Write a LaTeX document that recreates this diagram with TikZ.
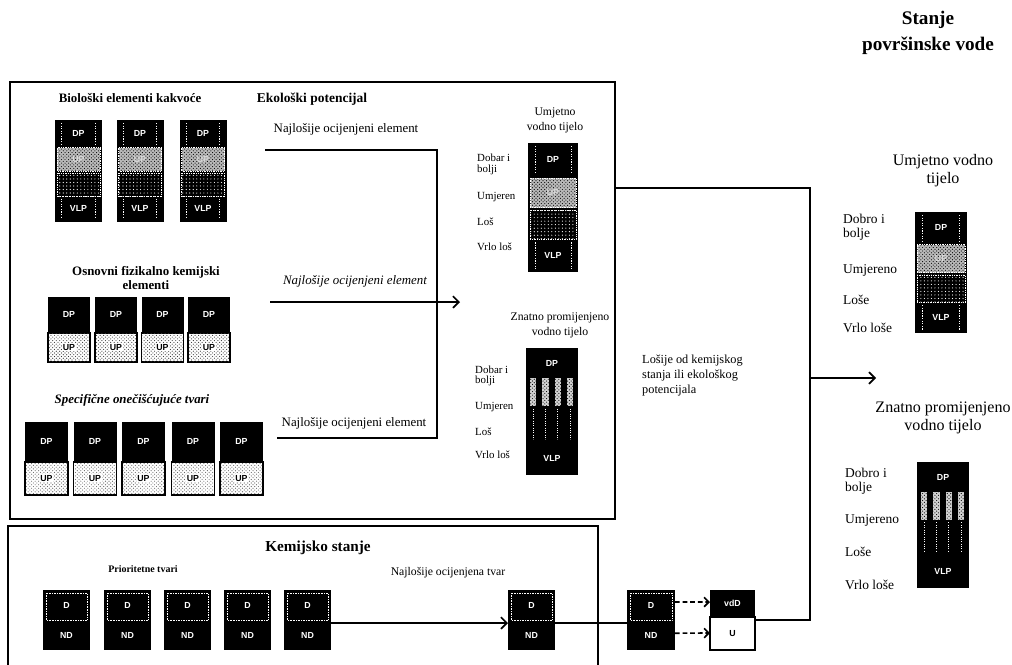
\documentclass[tikz,border=0pt]{standalone}
\usepackage{fontspec}
\setmainfont{Liberation Serif}
\setsansfont{Liberation Sans}
\usetikzlibrary{arrows.meta,patterns}

\newcommand\fourcard[5]{% cx, top, w, h, name
  \fill[black] ({#1-#3/2},{#2}) rectangle ({#1+#3/2},{#2+#4});
  \fill[gray!55] ({#1-#3/2+2},{#2+#4*0.27}) rectangle ({#1+#3/2-2},{#2+#4*0.5});
  \fill[pattern=crosshatch dots, pattern color=black] ({#1-#3/2+2},{#2+#4*0.27}) rectangle ({#1+#3/2-2},{#2+#4*0.5});
  \draw[white, densely dotted, line width=0.5pt] ({#1-#3/2+2},{#2+#4*0.27}) rectangle ({#1+#3/2-2},{#2+#4*0.5});
  \fill[pattern=dots, pattern color=white] ({#1-#3/2+2},{#2+#4*0.52}) rectangle ({#1+#3/2-2},{#2+#4*0.75});
  \draw[white, densely dotted, line width=0.5pt] ({#1-#3/2+2},{#2+#4*0.52}) rectangle ({#1+#3/2-2},{#2+#4*0.75});
  \foreach \dx in {-0.36,0.36}{
    \draw[white, dash pattern=on 1pt off 1.2pt, line width=0.8pt] ({#1+\dx*#3},{#2+3}) -- ({#1+\dx*#3},{#2+#4*0.24});
    \draw[white, dash pattern=on 1pt off 1.2pt, line width=0.8pt] ({#1+\dx*#3},{#2+#4*0.77}) -- ({#1+\dx*#3},{#2+#4-3});
  }
  \node[cardtxt] (#5-dp) at ({#1},{#2+#4*0.13}) {DP};
  \node[cardtxt, text=white!85!black] (#5-up) at ({#1},{#2+#4*0.385}) {UP};
  \node[cardtxt] (#5-vlp) at ({#1},{#2+#4*0.87}) {VLP};
}
\newcommand\twocard[6]{% cx, top, w, h, name, pattern colour
  \fill[black] ({#1-#3/2},{#2}) rectangle ({#1+#3/2},{#2+#4});
  \filldraw[fill=white, draw=black, line width=1.3pt] ({#1-#3/2},{#2+#4*0.55}) rectangle ({#1+#3/2},{#2+#4});
  \fill[pattern=crosshatch dots, pattern color=#6] ({#1-#3/2+1},{#2+#4*0.55+1}) rectangle ({#1+#3/2-1},{#2+#4-1});
  \node[cardtxt] (#5-dp) at ({#1},{#2+#4*0.27}) {DP};
  \node[cardtxt, text=black, fill=white, inner sep=0.6pt] (#5-up) at ({#1},{#2+#4*0.77}) {UP};
}
\newcommand\chemcard[5]{% cx, top, w, h, name
  \fill[black] ({#1-#3/2},{#2}) rectangle ({#1+#3/2},{#2+#4});
  \draw[white, densely dotted, line width=0.4pt] ({#1-#3/2+3},{#2+3}) rectangle ({#1+#3/2-3},{#2+#4/2});
  \node[cardtxt] (#5-d) at ({#1},{#2+#4/4}) {D};
  \node[cardtxt] (#5-nd) at ({#1},{#2+#4*0.75}) {ND};
  \coordinate (#5-e) at ({#1+#3/2},{#2+#4*0.55});
  \coordinate (#5-w) at ({#1-#3/2},{#2+#4*0.55});
  \coordinate (#5-ne) at ({#1+#3/2},{#2+#4*0.2});
  \coordinate (#5-se) at ({#1+#3/2},{#2+#4*0.72});
}
\newcommand\znatcard[5]{% cx, top, w, h, name
  \fill[black] ({#1-#3/2},{#2}) rectangle ({#1+#3/2},{#2+#4});
  \foreach \i in {0,1,2,3}{
    \fill[gray!35] ({#1-#3/2+#3*(0.08+0.235*\i)},{#2+#4*0.24}) rectangle ({#1-#3/2+#3*(0.2+0.235*\i)},{#2+#4*0.46});
    \fill[pattern=crosshatch dots, pattern color=black] ({#1-#3/2+#3*(0.08+0.235*\i)},{#2+#4*0.24}) rectangle ({#1-#3/2+#3*(0.2+0.235*\i)},{#2+#4*0.46});
    \draw[white, dash pattern=on 0.8pt off 1.2pt, line width=0.7pt] ({#1-#3/2+#3*(0.14+0.235*\i)},{#2+#4*0.48}) -- ({#1-#3/2+#3*(0.14+0.235*\i)},{#2+#4*0.72});
  }
  \node[cardtxt] (#5-dp) at ({#1},{#2+#4*0.12}) {DP};
  \node[cardtxt] (#5-vlp) at ({#1},{#2+#4*0.87}) {VLP};
}

\tikzset{
  cardtxt/.style={text=white, font=\sffamily\bfseries\fontsize{7.5}{8}\selectfont, inner sep=0pt},
  conn/.style={line width=1.4pt, black},
  arr/.style={conn, -{Straight Barb[length=5pt, width=10pt, line width=1.4pt]}},
  darr/.style={line width=1.4pt, dash pattern=on 4pt off 2.5pt, -{Straight Barb[length=4pt, width=8pt, line width=1.4pt]}},
  boxline/.style={line width=1.1pt},
  ttl/.style={font=\bfseries\fontsize{11}{13}\selectfont, inner sep=0pt, align=center},
  big/.style={font=\bfseries\fontsize{16.4}{19}\selectfont, inner sep=0pt, align=center},
  lab/.style={font=\fontsize{11}{13}\selectfont, inner sep=0pt},
  sml/.style={font=\fontsize{9.3}{11}\selectfont, inner sep=0pt, anchor=west},
  rlab/.style={font=\fontsize{11.5}{13}\selectfont, inner sep=0pt, anchor=west},
  sub/.style={font=\fontsize{10}{13}\selectfont, inner sep=0pt, align=center},
  rsub/.style={font=\fontsize{13.7}{15.5}\selectfont, inner sep=0pt, align=center},
}

\begin{document}
\begin{tikzpicture}[x=0.03cm, y=-0.03cm]
\useasboundingbox (0,0) rectangle (1012,664);

% title
\node[big] (stanje) at (928,20) {Stanje};
\node[big] (povrs) at (928,46) {površinske vode};

% ecological box
\draw[boxline] (10,82) rectangle (615,519);
\node[ttl, font=\bfseries\fontsize{11.5}{13}\selectfont] (eko) at (312,99) {Ekološki potencijal};

% biological
\node[ttl] (bio) at (130,98) {Biološki elementi kakvoće};
\fourcard{78.5}{120}{47}{102}{b1}
\fourcard{140}{120}{47}{102}{b2}
\fourcard{203}{120}{47}{102}{b3}

% basic physico-chemical
\node[ttl] (osn1) at (146,272) {Osnovni fizikalno kemijski};
\node[ttl] (osn2) at (146,285) {elementi};
\twocard{69}{297}{42}{65}{o1}{black!80}
\twocard{116}{297}{42}{65}{o2}{black!80}
\twocard{162.5}{297}{42}{65}{o3}{black!80}
\twocard{209}{297}{42}{65}{o4}{black!80}

% specific pollutants
\node[ttl, font=\bfseries\itshape\fontsize{11}{13}\selectfont] (spec) at (132,400) {Specifične onečišćujuće tvari};
\twocard{46.5}{422}{43}{73}{s1}{black!60}
\twocard{95}{422}{43}{73}{s2}{black!60}
\twocard{143.5}{422}{43}{73}{s3}{black!60}
\twocard{193}{422}{43}{73}{s4}{black!60}
\twocard{241.5}{422}{43}{73}{s5}{black!60}

% worst element flows
\node[lab] (n1) at (346,129) {Najlošije ocijenjeni element};
\node[lab, font=\itshape\fontsize{11}{13}\selectfont] (n2) at (355,281) {Najlošije ocijenjeni element};
\node[lab] (n3) at (354,423) {Najlošije ocijenjeni element};
\coordinate (f1) at (265,150);
\coordinate (k1) at (437,150);
\coordinate (k3) at (437,438);
\coordinate (f3) at (277,438);
\coordinate (f2) at (270,302);
\coordinate (t2) at (460,302);
\draw[conn] (f1) -- (k1) -- (k3) -- (f3);
\draw[arr] (f2) -- (t2);

% artificial water body (inner)
\node[sub] (uvt) at (555,120) {Umjetno\\vodno tijelo};
\fourcard{553}{143}{50}{129}{uc}
\node[sml] (ua) at (477,158) {Dobar i};
\node[sml] (ub) at (477,170) {bolji};
\node[sml] (uu) at (477,197) {Umjeren};
\node[sml] (ul) at (477,222) {Loš};
\node[sml] (uv) at (477,247) {Vrlo loš};

% heavily modified (inner)
\node[sub] (zvt) at (560,325) {Znatno promijenjeno\\vodno tijelo};
\znatcard{552}{348}{52}{127}{zc}
\node[sml] (za) at (475,370) {Dobar i};
\node[sml] (zb) at (475,381) {bolji};
\node[sml] (zu) at (475,407) {Umjeren};
\node[sml] (zl) at (475,432) {Loš};
\node[sml] (zv) at (475,455) {Vrlo loš};

% worse of the two
\node[sml, align=left, anchor=north west, font=\fontsize{10.5}{12.5}\selectfont] (losije) at (642,355) {Lošije od kemijskog\\stanja ili ekološkog\\potencijala};

% chemical status box
\draw[boxline] (8,670) -- (8,526) -- (598,526) -- (598,670);
\node[ttl, font=\bfseries\fontsize{13}{15}\selectfont] (kem) at (318,548) {Kemijsko stanje};
\node[ttl, font=\bfseries\fontsize{8.5}{10}\selectfont] (prio) at (143,569) {Prioritetne tvari};
\chemcard{66.5}{590}{47}{60}{c1}
\chemcard{127.5}{590}{47}{60}{c2}
\chemcard{187.5}{590}{47}{60}{c3}
\chemcard{247.5}{590}{47}{60}{c4}
\chemcard{307.5}{590}{47}{60}{c5}
\node[lab, font=\fontsize{10}{12}\selectfont] (ntv) at (448,573) {Najlošije ocijenjena tvar};
\chemcard{531.5}{590}{47}{60}{nd1}
\chemcard{651}{590}{48}{60}{nd2}
\draw[arr] (c5-e) -- (nd1-w);
\draw[conn] (nd1-e) -- (nd2-w);

% final chemical result
\fill[black] (710,590) rectangle (755,617);
\draw[line width=1.3pt, fill=white] (710,617) rectangle (755,650);
\node[cardtxt] (vdd) at (732.5,603) {vdD};
\node[cardtxt, text=black] (uu2) at (732.5,634) {U};
\coordinate (fin-nw) at (710,602);
\coordinate (fin-sw) at (710,633);
\coordinate (fin-e) at (755,620);
\draw[darr] (nd2-ne) -- (fin-nw);
\draw[darr] (nd2-se) -- (fin-sw);

% overall connectors
\coordinate (ecoR) at (615,188);
\coordinate (j1) at (810,188);
\coordinate (j2) at (810,620);
\coordinate (a1) at (810,378);
\coordinate (a2) at (876,378);
\draw[conn] (ecoR) -- (j1) -- (j2) -- (fin-e);
\draw[arr] (a1) -- (a2);

% right: artificial water body
\node[rsub] (ruvt) at (943,171) {Umjetno vodno\\tijelo};
\fourcard{941}{212}{52}{121}{ruc}
\node[rlab] (ra) at (843,219) {Dobro i};
\node[rlab] (rb) at (843,234) {bolje};
\node[rlab] (ru) at (843,270) {Umjereno};
\node[rlab] (rl) at (843,300) {Loše};
\node[rlab] (rv) at (843,328) {Vrlo loše};

% right: heavily modified
\node[rsub] (rzvt) at (943,418) {Znatno promijenjeno\\vodno tijelo};
\znatcard{943}{462}{52}{126}{rzc}
\node[rlab] (rza) at (845,473) {Dobro i};
\node[rlab] (rzb) at (845,488) {bolje};
\node[rlab] (rzu) at (845,520) {Umjereno};
\node[rlab] (rzl) at (845,552) {Loše};
\node[rlab] (rzv) at (845,585) {Vrlo loše};
\end{tikzpicture}
\end{document}
